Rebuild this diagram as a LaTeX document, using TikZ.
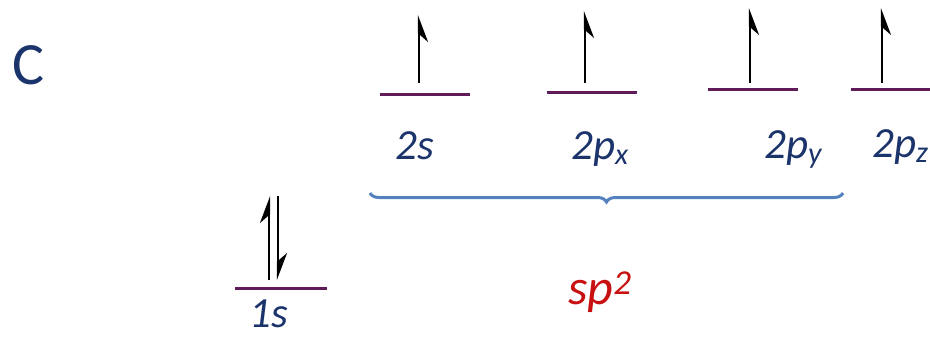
\documentclass[tikz,border=0pt]{standalone}
\usepackage{fontspec}
\setmainfont{Carlito}
\usetikzlibrary{arrows.meta,decorations.pathreplacing}
\definecolor{navy}{RGB}{28,52,108}
\definecolor{levelcol}{RGB}{96,28,88}
\definecolor{bracecol}{RGB}{84,130,190}
\definecolor{hybred}{RGB}{200,16,16}
\tikzset{
  orbital/.style={draw=levelcol,line width=3pt},
  spinup/.style={line width=2.2pt,-{Stealth[length=24pt,width=18pt,right]}},
  spinup1s/.style={line width=2.2pt,-{Stealth[length=24pt,width=18pt,left]}},
  lbl/.style={inner sep=0pt,anchor=base west,text=navy,font=\fontsize{43}{45}\selectfont\itshape},
  hybrace/.style={draw=bracecol,line width=3pt,decorate,decoration={brace,mirror,amplitude=9pt}}
}
\begin{document}
\begin{tikzpicture}[x=1pt,y=-1pt]
  \useasboundingbox (0,0) rectangle (930,340);
  \node[inner sep=0pt,anchor=base west,text=navy,font=\fontsize{60}{62}\selectfont] (C) at (12,84) {C};
  % 1s level
  \coordinate (1s-l) at (235,288);
  \coordinate (1s-r) at (327,288);
  \draw[orbital] (1s-l) -- (1s-r);
  \coordinate (1s-u0) at (269,280);
  \coordinate (1s-u1) at (269,196);
  \coordinate (1s-d0) at (278,196);
  \coordinate (1s-d1) at (278,280);
  \draw[spinup1s] (1s-u0) -- (1s-u1);
  \draw[spinup1s] (1s-d0) -- (1s-d1);
  \node[lbl] (1s-lab) at (249,327) {1s};
  % n = 2 levels
  \foreach \n/\x/\y/\w/\t in {2s/380/94/419/15, 2px/547/92/585/11, 2py/708/89/750/8, 2pz/851/89/882/8}
  {
    \coordinate (\n-l) at (\x,\y);
    \coordinate (\n-r) at (\x+90,\y);
    \draw[orbital] (\n-l) -- (\n-r);
    \coordinate (\n-e0) at (\w,83);
    \coordinate (\n-e1) at (\w,\t);
    \draw[spinup] (\n-e0) -- (\n-e1);
  }
  \foreach \n/\x/\b/\lab in {2s/395/159/2s, 2px/571/159/{2p\textsubscript{x}}, 2py/764/158/{2p\textsubscript{y}}, 2pz/872/157/{2p\textsubscript{z}}}
    \node[lbl] (\n-lab) at (\x,\b) {\lab};
  % hybrid
  \coordinate (br-l) at (370,193);
  \coordinate (br-r) at (843,193);
  \draw[hybrace] (br-l) -- (br-r);
  \node[inner sep=0pt,anchor=base west,text=hybred,font=\fontsize{50}{52}\selectfont\itshape] (sp2) at (568,304) {sp\textsuperscript{2}};
\end{tikzpicture}
\end{document}
